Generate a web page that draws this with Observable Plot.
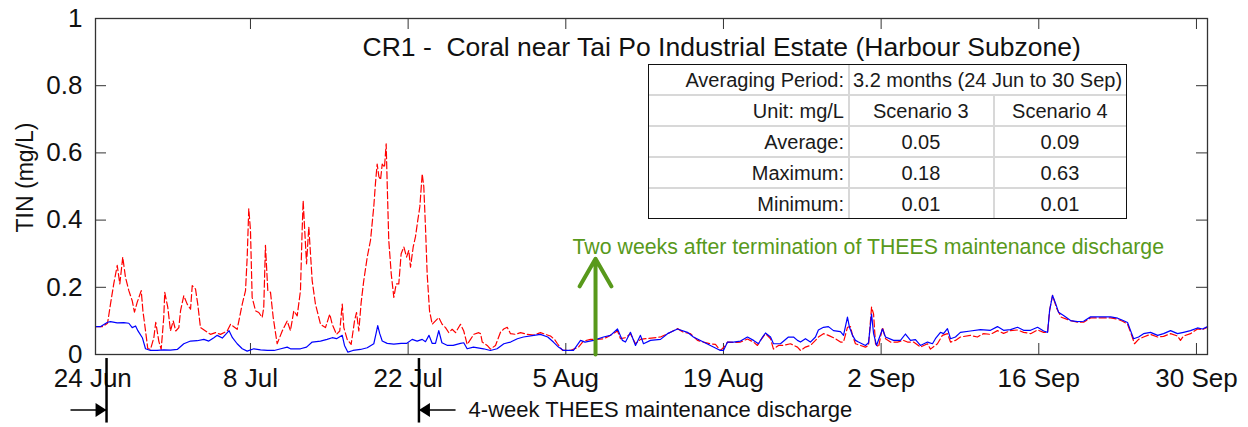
<!DOCTYPE html>
<html><head><meta charset="utf-8">
<script src="https://cdn.jsdelivr.net/npm/d3@7"></script>
<script src="https://cdn.jsdelivr.net/npm/@observablehq/plot@0.6"></script>
<style>
body{margin:0;background:#fff;font-family:"Liberation Sans",Arial,sans-serif;}
#wrap{position:relative;width:1248px;height:427px;overflow:hidden;}
#tbl{position:absolute;left:648px;top:64px;border:1.5px solid #111;background:#fff;}
#tbl table{border-collapse:collapse;border-style:hidden;font-size:20px;color:#1a1a1a;font-family:"Liberation Sans",Arial,sans-serif;}
#tbl td{border:2px solid #d8d8d8;height:27px;padding:1px 4px 1px 3px;white-space:nowrap;line-height:1;}
#tbl td.r{text-align:right;}
#tbl td.c{text-align:center;}
#tbl td.l{text-align:left;}
</style></head><body><div id="wrap"></div>
<script>
// ---- data (day offset from 24 Jun, TIN mg/L) ----
const scenario3 = [[0.24,.083],[0.7,.083],[1.31,.096],[1.57,.098],[2.17,.094],[2.75,.095],[3.2,.093],[3.5,.08],[3.8,.085],[4.0,.071],[4.4,.05],[4.68,.017],[5.12,.012],[5.7,.012],[6.3,.014],[6.9,.013],[7.5,.015],[8.08,.032],[8.68,.04],[9.27,.041],[9.86,.045],[10.3,.04],[10.75,.05],[11.05,.057],[11.5,.049],[11.8,.06],[12.1,.071],[12.4,.05],[12.82,.032],[13.27,.017],[13.71,.01],[14.3,.017],[14.9,.014],[15.5,.012],[16.1,.012],[16.7,.017],[17.26,.022],[17.55,.017],[18.44,.017],[18.98,.022],[19.48,.037],[20.22,.04],[20.8,.045],[21.26,.05],[21.64,.047],[22.15,.057],[22.35,.027],[22.65,.007],[23.1,.012],[23.77,.015],[24.37,.02],[24.95,.032],[25.15,.062],[25.3,.086],[25.48,.062],[25.7,.04],[26.14,.033],[26.73,.031],[27.38,.033],[27.86,.033],[28.36,.045],[28.8,.04],[29.25,.045],[29.54,.038],[29.85,.057],[30.14,.033],[30.43,.033],[30.72,.071],[31.0,.035],[31.5,.027],[32.0,.027],[32.65,.033],[32.94,.035],[33.24,.017],[33.8,.022],[34.7,.017],[35.3,.012],[35.9,.017],[36.5,.032],[37.1,.037],[37.7,.047],[38.24,.052],[39.16,.057],[39.75,.06],[40.4,.052],[40.9,.037],[41.35,.022],[41.8,.012],[42.68,.012],[43.31,.042],[43.7,.037],[44.46,.042],[45.35,.052],[45.97,.057],[46.59,.076],[47.03,.042],[47.3,.037],[47.74,.066],[48.19,.027],[48.63,.057],[48.9,.032],[49.52,.042],[50.41,.045],[51.03,.062],[51.92,.076],[52.8,.066],[53.33,.052],[54.22,.037],[54.84,.027],[55.73,.012],[56.0,.012],[56.36,.037],[56.89,.037],[57.51,.04],[58.13,.052],[58.67,.042],[59.11,.032],[59.47,.052],[59.73,.064],[60.18,.052],[60.44,.032],[61.06,.032],[61.77,.052],[62.22,.052],[62.57,.042],[62.84,.037],[63.28,.047],[63.72,.037],[64.17,.052],[64.43,.073],[64.88,.081],[65.32,.083],[65.77,.071],[66.39,.068],[66.66,.057],[67.01,.111],[67.19,.081],[67.46,.057],[67.72,.042],[67.99,.037],[68.61,.027],[68.88,.035],[69.15,.12],[69.33,.062],[69.59,.027],[70.12,.076],[70.39,.052],[71.1,.042],[71.72,.042],[72.16,.061],[72.61,.042],[73.05,.044],[73.49,.027],[74.12,.037],[74.56,.032],[74.82,.047],[75.27,.066],[75.54,.062],[75.89,.077],[76.16,.047],[76.6,.052],[77.04,.066],[77.93,.07],[78.82,.074],[79.71,.072],[80.33,.083],[80.87,.072],[81.49,.074],[82.11,.081],[82.65,.072],[83.27,.072],[83.89,.081],[84.43,.07],[84.78,.066],[84.96,.131],[85.22,.176],[85.49,.152],[85.75,.126],[86.2,.116],[86.82,.101],[87.44,.098],[87.98,.099],[88.6,.112],[89.22,.112],[89.75,.112],[90.38,.112],[91.0,.108],[91.44,.102],[91.88,.095],[92.15,.071],[92.42,.047],[92.86,.052],[93.3,.062],[93.92,.066],[94.55,.057],[95.08,.062],[95.7,.071],[96.32,.062],[96.85,.066],[97.47,.071],[98.09,.079],[98.53,.076],[98.98,.083]];

const scenario4 = [[0.24,.083],[0.9,.083],[1.31,.093],[1.57,.15],[1.86,.21],[2.17,.265],[2.4,.21],[2.66,.29],[2.9,.23],[3.2,.19],[3.5,.16],[3.7,.126],[3.94,.155],[4.3,.19],[4.45,.13],[4.68,.071],[4.88,.018],[5.12,.015],[5.42,.05],[5.59,.096],[5.86,.04],[6.07,.015],[6.3,.11],[6.39,.185],[6.66,.14],[6.9,.07],[7.14,.1],[7.37,.07],[7.64,.08],[7.79,.13],[8.08,.175],[8.38,.15],[8.68,.135],[8.83,.205],[9.12,.195],[9.32,.15],[9.56,.08],[10.01,.07],[10.45,.06],[10.9,.065],[11.34,.06],[11.93,.07],[12.23,.09],[12.82,.075],[13.27,.15],[13.56,.19],[13.71,.29],[13.85,.434],[14.0,.37],[14.15,.17],[14.45,.13],[14.74,.125],[15.04,.11],[15.18,.14],[15.33,.325],[15.54,.19],[15.78,.185],[16.02,.11],[16.37,.032],[16.82,.07],[17.26,.1],[17.55,.071],[17.85,.13],[18.15,.115],[18.44,.19],[18.59,.37],[18.68,.458],[18.8,.38],[18.98,.27],[19.18,.38],[19.33,.3],[19.48,.22],[19.77,.15],[20.22,.09],[20.66,.08],[21.04,.12],[21.26,.09],[21.64,.06],[21.93,.07],[22.15,.15],[22.29,.08],[22.59,.045],[22.94,.03],[23.24,.1],[23.42,.125],[23.62,.07],[23.83,.155],[24.06,.22],[24.37,.29],[24.66,.34],[24.95,.44],[25.1,.51],[25.25,.567],[25.4,.53],[25.55,.52],[25.7,.567],[25.9,.557],[26.05,.627],[26.14,.51],[26.28,.34],[26.5,.24],[26.73,.17],[26.94,.21],[27.17,.21],[27.38,.3],[27.62,.32],[27.86,.29],[28.06,.31],[28.21,.26],[28.45,.32],[28.65,.35],[28.86,.4],[29.04,.44],[29.25,.538],[29.39,.5],[29.54,.38],[29.69,.24],[29.9,.13],[30.14,.09],[30.43,.1],[30.72,.11],[31.02,.09],[31.32,.08],[31.61,.065],[31.91,.075],[32.21,.065],[32.65,.09],[32.94,.07],[33.24,.03],[33.54,.045],[33.83,.06],[34.27,.065],[34.43,.062],[34.58,.037],[35.02,.027],[35.31,.016],[35.76,.027],[36.2,.066],[36.49,.076],[36.8,.081],[37.09,.062],[37.53,.06],[37.98,.065],[38.57,.06],[39.16,.058],[39.75,.065],[40.2,.06],[40.64,.055],[41.0,.045],[41.26,.032],[41.71,.012],[42.41,.012],[43.13,.022],[43.57,.04],[44.19,.045],[44.81,.045],[45.35,.047],[45.7,.052],[46.59,.07],[46.86,.047],[47.3,.05],[47.74,.062],[48.19,.032],[48.63,.045],[49.08,.047],[50.41,.052],[51.3,.066],[51.92,.077],[52.45,.066],[53.07,.062],[53.69,.042],[54.22,.037],[54.84,.032],[55.29,.03],[55.73,.012],[56.18,.027],[56.36,.037],[56.89,.036],[57.51,.037],[58.13,.046],[58.67,.037],[59.02,.027],[59.29,.042],[59.73,.062],[60.18,.047],[60.44,.016],[60.89,.027],[61.33,.027],[61.95,.032],[62.57,.022],[62.84,.012],[63.28,.022],[63.72,.027],[64.17,.042],[64.43,.052],[64.88,.062],[65.32,.057],[65.95,.047],[66.39,.037],[66.66,.037],[67.01,.081],[67.28,.083],[67.46,.057],[67.72,.032],[68.17,.027],[68.61,.022],[68.88,.027],[69.15,.141],[69.33,.12],[69.5,.032],[69.77,.022],[70.12,.081],[70.39,.047],[70.83,.037],[71.45,.037],[71.98,.042],[72.34,.037],[72.88,.037],[73.49,.022],[74.12,.032],[74.38,.016],[75.0,.032],[75.44,.057],[75.89,.062],[76.16,.037],[76.6,.042],[77.04,.052],[77.93,.057],[78.55,.052],[79.08,.062],[79.71,.06],[80.33,.071],[80.87,.063],[81.49,.071],[82.11,.073],[82.65,.066],[83.27,.062],[83.89,.073],[84.43,.066],[84.78,.066],[84.96,.131],[85.22,.176],[85.6,.136],[86.0,.111],[86.82,.101],[87.44,.096],[87.98,.096],[88.6,.109],[89.22,.109],[89.75,.109],[90.38,.109],[91.0,.105],[91.44,.099],[91.88,.09],[92.15,.066],[92.5,.032],[92.86,.045],[93.3,.052],[93.92,.06],[94.55,.052],[95.08,.054],[95.7,.062],[96.32,.055],[96.58,.042],[96.85,.055],[97.47,.062],[98.09,.076],[98.53,.074],[98.98,.081]];

const tickDays = [0, 14, 28, 42, 56, 70, 84, 98];
const tickLabels = ["24 Jun", "8 Jul", "22 Jul", "5 Aug", "19 Aug", "2 Sep", "16 Sep", "30 Sep"];
const yTicks = [0, 0.2, 0.4, 0.6, 0.8, 1];
const domainDays = [0.24, 98.98];

const titleText = "CR1 -  Coral near Tai Po Industrial Estate (Harbour Subzone)";
const yLabel = "TIN (mg/L)";
const greenLabel = "Two weeks after termination of THEES maintenance discharge";
const greenArrowDay = 44.64, greenArrowTop = 0.285, greenLabelY = 0.318;
const dischargeLabel = "4-week THEES maintenance discharge";
const dischargeDays = [1.22, 28.96];      // start / end of discharge
const dischargeArrowTails = [-1.98, 32.21];
const annoY = -0.165, annoLineTop = -0.012, annoLineBottom = -0.204;
const dischargeLabelDay = 33.37;

const tableRows = [
  ["Unit: mg/L", "Scenario 3", "Scenario 4"],
  ["Average:", "0.05", "0.09"],
  ["Maximum:", "0.18", "0.63"],
  ["Minimum:", "0.01", "0.01"]
];
const avgPeriodLabel = "Averaging Period:";
const avgPeriodValue = "3.2 months (24 Jun to 30 Sep)";

// ---- build ----
const start = Date.UTC(2023, 5, 24);
const toDate = d => new Date(start + d * 864e5);
const s3 = scenario3.map(([d, v]) => ({t: toDate(d), v}));
const s4 = scenario4.map(([d, v]) => ({t: toDate(d), v}));
const tickDates = tickDays.map(toDate);
const labelOf = new Map(tickDates.map((d, i) => [+d, tickLabels[i]]));
const innerX = tickDates.slice(1);
const innerY = yTicks.slice(1, -1);

const W = 1248, H = 427, mL = 95, mR = 41, mT = 18, mB = 73;
const fw = W - mL - mR, fh = H - mT - mB, tk = 11;
const green = "#58991b";
const axisColor = "#333";

const triRight = {draw(c) { c.moveTo(0, 0); c.lineTo(-11, -7); c.lineTo(-11, 7); c.closePath(); }};
const triLeft = {draw(c) { c.moveTo(0, 0); c.lineTo(11, -7); c.lineTo(11, 7); c.closePath(); }};

const chart = Plot.plot({
  width: W, height: H,
  marginLeft: mL, marginRight: mR, marginTop: mT, marginBottom: mB,
  style: {fontFamily: "Liberation Sans, Arial, sans-serif", background: "white", color: "#111"},
  x: {type: "utc", domain: domainDays.map(toDate)},
  y: {domain: [0, 1]},
  marks: [
    Plot.axisX({ticks: tickDates, tickFormat: d => labelOf.get(+d), tickSize: 0, tickPadding: 14, fontSize: 26, label: null}),
    Plot.axisY({ticks: yTicks, tickFormat: d => String(d), tickSize: 0, tickPadding: 13, fontSize: 26, label: null}),
    Plot.tickX(innerX, {x: d => d, insetTop: fh - tk, stroke: axisColor}),
    Plot.tickX(innerX, {x: d => d, insetBottom: fh - tk, stroke: axisColor}),
    Plot.tickY(innerY, {y: d => d, insetRight: fw - tk, stroke: axisColor}),
    Plot.tickY(innerY, {y: d => d, insetLeft: fw - tk, stroke: axisColor}),
    Plot.line(s4, {x: "t", y: "v", stroke: "#ff0000", strokeWidth: 1.2, strokeDasharray: "7,3"}),
    Plot.line(s3, {x: "t", y: "v", stroke: "#0000ff", strokeWidth: 1.2}),
    Plot.frame({stroke: axisColor, strokeWidth: 1.3}),
    Plot.text([titleText], {frameAnchor: "top-left", dx: 267, dy: 29, textAnchor: "start", lineAnchor: "middle", fontSize: 26.5, fill: "#111"}),
    Plot.text([yLabel], {frameAnchor: "left", dx: -70, dy: -9, rotate: -90, textAnchor: "middle", lineAnchor: "middle", fontSize: 23, fill: "#111"}),
    Plot.arrow([greenArrowDay], {x1: d => toDate(d), x2: d => toDate(d), y1: () => 0, y2: () => greenArrowTop, stroke: green, strokeWidth: 4, headLength: 13, headAngle: 60, insetStart: 0, insetEnd: 0}),
    Plot.text([greenLabel], {x: () => toDate(greenArrowDay), y: () => greenLabelY, dx: -23, textAnchor: "start", lineAnchor: "middle", fontSize: 21.3, fill: green}),
    Plot.ruleX(dischargeDays, {x: d => toDate(d), y1: annoLineTop, y2: annoLineBottom, stroke: "#000", strokeWidth: 2.5}),
    Plot.link([0, 1], {x1: i => toDate(dischargeArrowTails[i]), x2: i => toDate(dischargeDays[i]), y1: () => annoY, y2: () => annoY, stroke: "#000", strokeWidth: 1.5}),
    Plot.dot([0], {x: () => toDate(dischargeDays[0]), y: () => annoY, symbol: triRight, r: 5, fill: "#000", stroke: null}),
    Plot.dot([1], {x: () => toDate(dischargeDays[1]), y: () => annoY, symbol: triLeft, r: 5, fill: "#000", stroke: null}),
    Plot.text([dischargeLabel], {x: () => toDate(dischargeLabelDay), y: () => annoY, textAnchor: "start", lineAnchor: "middle", fontSize: 22, fill: "#111"})
  ]
});

const wrap = document.getElementById("wrap");
wrap.appendChild(chart);

// statistics table
const box = document.createElement("div");
box.id = "tbl";
const table = document.createElement("table");
const colW = [192, 141, 130];
const tr0 = document.createElement("tr");
const a = document.createElement("td"); a.className = "r"; a.textContent = avgPeriodLabel; a.style.width = colW[0] + "px";
const b = document.createElement("td"); b.className = "l"; b.colSpan = 2; b.textContent = avgPeriodValue;
tr0.append(a, b); table.appendChild(tr0);
tableRows.forEach(row => {
  const tr = document.createElement("tr");
  row.forEach((txt, j) => {
    const td = document.createElement("td");
    td.className = j === 0 ? "r" : "c";
    td.textContent = txt;
    if (j > 0) td.style.width = (colW[j] - 9) + "px";
    tr.appendChild(td);
  });
  table.appendChild(tr);
});
box.appendChild(table);
wrap.appendChild(box);
</script>
</body></html>
